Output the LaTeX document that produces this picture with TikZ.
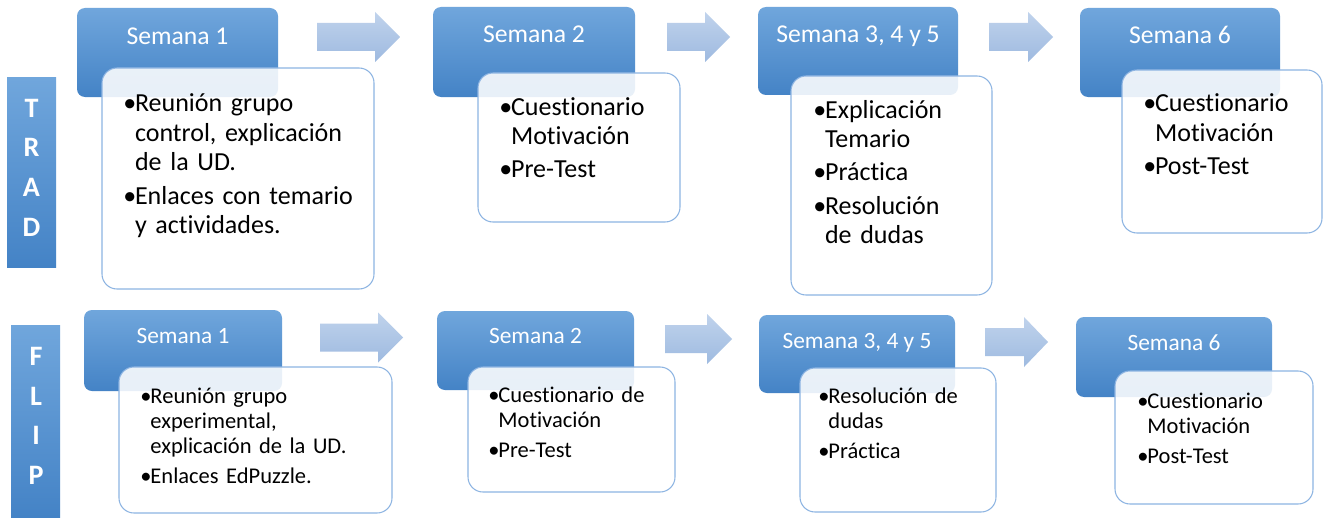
\documentclass[tikz,border=0pt]{standalone}
\usepackage{fontspec}
\setmainfont{Carlito}[Ligatures=NoCommon]
\usetikzlibrary{fit}

\definecolor{azulA}{RGB}{112,166,220}
\definecolor{azulB}{RGB}{68,131,198}
\definecolor{bordeC}{RGB}{141,180,226}
\definecolor{flechaA}{RGB}{192,211,236}
\definecolor{flechaB}{RGB}{158,186,224}

\newcommand{\itm}[1]{\noindent\hangindent=0.45em\hangafter=1\makebox[0.45em][l]{\textbullet}#1\par}

\begin{document}
\begin{tikzpicture}[x=0.02cm,y=-0.02cm,
    cab/.style={fit={#1},inner sep=0pt,rounded corners=0.16cm,top color=azulA,bottom color=azulB},
    cuerpo/.style={fit={#1},inner sep=0pt,rounded corners=0.3cm,draw=bordeC,line width=0.6pt,fill=white,fill opacity=0.88},
    barra/.style={fit={#1},inner sep=0pt,top color=azulA,bottom color=azulB},
    flecha/.style={top color=flechaA,bottom color=flechaB},
    letras/.style={align=center,text=white,inner sep=0pt,font=\fontsize{16}{22.6}\selectfont\bfseries},
    tcab/.style={anchor=base,text=white,inner sep=0pt,font=\fontsize{#1}{#1}\selectfont},
    ttxt/.style={anchor=base west,inner sep=0pt,text width=5.5cm,align=left,
      execute at begin node=\setlength{\parskip}{2.4pt}},
    ttrad/.style={ttxt,font=\fontsize{14.8}{16.7}\selectfont},
    tflip/.style={ttxt,font=\fontsize{12.8}{14.5}\selectfont}]
  \fill[white] (0,0) rectangle (1327,517);
  \useasboundingbox (0,0) rectangle (1327,517);

  \node[barra={(7,78) (56,267)}] (bt) {};
  \node[barra={(11,325) (60,517)}] (bf) {};
  \node[letras] (trad) at (31.5,167.5) {T\\R\\A\\D};
  \node[letras] (flip) at (36,416) {F\\L\\I\\P};

  \foreach \xa/\xb/\xc/\yc in {317/375/400/37,667/705/730/37,989/1028/1053/37,
      320/378/403/337.5,665/707/732/339,985/1024/1048/342}
    \path[flecha] (\xa,\yc-14) -- (\xb,\yc-14) -- (\xb,\yc-25) -- (\xc,\yc)
      -- (\xb,\yc+25) -- (\xb,\yc+14) -- (\xa,\yc+14) -- cycle;

  \node[cab={(77,8) (278,97)}] (h1) {};
  \node[cab={(433,7) (635,97)}] (h2) {};
  \node[cab={(758,7) (958,95)}] (h3) {};
  \node[cab={(1080,8) (1280,97)}] (h4) {};
  \node[cab={(84,310) (282,391)}] (g1) {};
  \node[cab={(437,311) (634,390)}] (g2) {};
  \node[cab={(759,315) (955,393)}] (g3) {};
  \node[cab={(1076,317) (1272,397)}] (g4) {};

  \node[tcab=14.6] (th1) at (177.5,45) {Semana 1};
  \node[tcab=14.6] (th2) at (534,43) {Semana 2};
  \node[tcab=14.6] (th3) at (858,43) {Semana 3, 4 y 5};
  \node[tcab=14.6] (th4) at (1180,44) {Semana 6};
  \node[tcab=13.3] (tg1) at (183,343) {Semana 1};
  \node[tcab=13.3] (tg2) at (535.5,343) {Semana 2};
  \node[tcab=13.3] (tg3) at (857,348) {Semana 3, 4 y 5};
  \node[tcab=13.3] (tg4) at (1174,350) {Semana 6};

  \node[cuerpo={(102,68) (374,289)}] (b1) {};
  \node[cuerpo={(478,73) (680,222)}] (b2) {};
  \node[cuerpo={(791,76) (992,295)}] (b3) {};
  \node[cuerpo={(1122,70) (1322,233)}] (b4) {};
  \node[cuerpo={(119,367) (392,513)}] (c1) {};
  \node[cuerpo={(468,367) (675,492)}] (c2) {};
  \node[cuerpo={(800,368) (996,512)}] (c3) {};
  \node[cuerpo={(1115,371) (1313,504)}] (c4) {};

  \node[ttrad] (tb1) at (123,112) {\itm{Reunión grupo\newline control, explicación\newline de la UD.}\itm{Enlaces con temario\newline y actividades.}};
  \node[ttrad] (tb2) at (499,115) {\itm{Cuestionario\newline Motivación}\itm{Pre-Test}};
  \node[ttrad] (tb3) at (813,118) {\itm{Explicación\newline Temario}\itm{Práctica}\itm{Resolución\newline de dudas}};
  \node[ttrad] (tb4) at (1143,112) {\itm{Cuestionario\newline Motivación}\itm{Post-Test}};
  \node[tflip] (tc1) at (140,403) {\itm{Reunión grupo\newline experimental,\newline explicación de la UD.}\itm{Enlaces EdPuzzle.}};
  \node[tflip] (tc2) at (488,402) {\itm{Cuestionario de\newline Motivación}\itm{Pre-Test}};
  \node[tflip] (tc3) at (818,403) {\itm{Resolución de\newline dudas}\itm{Práctica}};
  \node[tflip] (tc4) at (1137,408) {\itm{Cuestionario\newline Motivación}\itm{Post-Test}};
\end{tikzpicture}
\end{document}
